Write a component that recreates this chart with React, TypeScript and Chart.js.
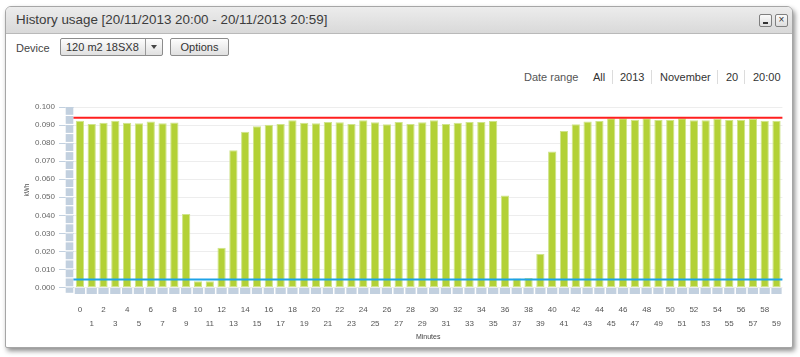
import React, { useEffect, useRef } from 'react';
import { Chart, registerables } from 'chart.js';

Chart.register(...registerables);

const FONT = '"Liberation Sans", Arial, Helvetica, sans-serif';

const minutes = [
  '0', '1', '2', '3', '4', '5', '6', '7', '8', '9',
  '10', '11', '12', '13', '14', '15', '16', '17', '18', '19',
  '20', '21', '22', '23', '24', '25', '26', '27', '28', '29',
  '30', '31', '32', '33', '34', '35', '36', '37', '38', '39',
  '40', '41', '42', '43', '44', '45', '46', '47', '48', '49',
  '50', '51', '52', '53', '54', '55', '56', '57', '58', '59',
];

const usageKwh = [
  0.0924, 0.0906, 0.0913, 0.0924, 0.0913, 0.0910, 0.0920, 0.0910, 0.0914, 0.0407,
  0.0035, 0.0035, 0.0220, 0.0761, 0.0863, 0.0893, 0.0902, 0.0906, 0.0926, 0.0913,
  0.0910, 0.0917, 0.0915, 0.0906, 0.0926, 0.0915, 0.0904, 0.0917, 0.0906, 0.0915,
  0.0926, 0.0906, 0.0913, 0.0917, 0.0917, 0.0922, 0.0510, 0.0050, 0.0053, 0.0185,
  0.0754, 0.0867, 0.0905, 0.0920, 0.0922, 0.0937, 0.0937, 0.0930, 0.0938, 0.0928,
  0.0928, 0.0937, 0.0926, 0.0926, 0.0933, 0.0928, 0.0930, 0.0933, 0.0924, 0.0924,
];

const yTicks = [0, 0.01, 0.02, 0.03, 0.04, 0.05, 0.06, 0.07, 0.08, 0.09, 0.1];
const Y_MIN = -0.0036;
const Y_MAX = 0.1;

const BAND_LOW = -0.0036;
const BAND_HIGH = -0.0003;

const MAX_LIMIT = 0.094;
const MIN_LIMIT = 0.0044;

const dateRange = ['All', '2013', 'November', '20', '20:00'];

const overlayPlugin = {
  id: 'overlay',
  afterDatasetsDraw(chart: any) {
    const { ctx, chartArea } = chart;
    const y = chart.scales.y;
    const lines: [number, string][] = [
      [MAX_LIMIT, '#ff1f1f'],
      [MIN_LIMIT, '#1ea3e8'],
    ];
    ctx.save();
    for (const [v, c] of lines) {
      const py = y.getPixelForValue(v);
      ctx.strokeStyle = c;
      ctx.lineWidth = 2;
      ctx.beginPath();
      ctx.moveTo(chartArea.left - 1, py);
      ctx.lineTo(chartArea.right, py);
      ctx.stroke();
    }
    ctx.restore();
  },
  afterDraw(chart: any) {
    const { ctx, chartArea } = chart;
    const y = chart.scales.y;
    const edges: number[] = [];
    for (let i = yTicks.length - 1; i > 0; i--) {
      edges.push(yTicks[i]);
      edges.push((yTicks[i] + yTicks[i - 1]) / 2);
    }
    edges.push(yTicks[0]);
    edges.push(Y_MIN);
    const x0 = chartArea.left - 8.3;
    const w = 7.6;
    ctx.save();
    ctx.fillStyle = '#ffffff';
    ctx.fillRect(x0, chartArea.top, w, chartArea.bottom - chartArea.top);
    ctx.fillStyle = '#c2d0df';
    for (let i = 0; i < edges.length - 1; i++) {
      const t = y.getPixelForValue(edges[i]);
      const b = y.getPixelForValue(edges[i + 1]);
      ctx.fillRect(x0, t, w, b - t - 1.2);
    }
    // unit label
    ctx.translate(17, y.getPixelForValue(0.054));
    ctx.rotate(-Math.PI / 2);
    ctx.fillStyle = '#555';
    ctx.font = `6.5px ${FONT}`;
    ctx.textAlign = 'center';
    ctx.textBaseline = 'middle';
    ctx.fillText('kWh', 0, 0);
    ctx.restore();
  },
};

function UsageChart() {
  const ref = useRef<HTMLCanvasElement | null>(null);
  useEffect(() => {
    if (!ref.current) return;
    const band = minutes.map(() => [BAND_LOW, BAND_HIGH]);
    const chart = new Chart(ref.current, {
      type: 'bar',
      data: {
        labels: minutes,
        datasets: [
          {
            label: 'Usage',
            data: usageKwh,
            backgroundColor: '#b3d136',
            borderColor: '#cfe48a',
            borderWidth: 1,
            borderSkipped: false,
            barPercentage: 0.7,
            categoryPercentage: 1,
            grouped: false,
          } as any,
          {
            label: 'Base',
            data: band as any,
            backgroundColor: '#c2d0df',
            borderWidth: 0,
            barPercentage: 0.87,
            categoryPercentage: 1,
            grouped: false,
          } as any,
        ],
      },
      options: {
        animation: false,
        responsive: false,
        maintainAspectRatio: false,
        events: [],
        layout: { padding: { left: 0, right: 5, top: 12, bottom: 0 } },
        plugins: { legend: { display: false }, tooltip: { enabled: false } },
        scales: {
          x: {
            grid: { display: false, drawTicks: false },
            border: { display: false },
            ticks: {
              autoSkip: false,
              maxRotation: 0,
              minRotation: 0,
              padding: 9,
              color: '#555',
              font: { size: 8, family: FONT, lineHeight: 1.75 },
              callback: (_v: any, i: number) => (i % 2 === 0 ? minutes[i] : ['', minutes[i]]),
            },
            title: {
              display: true,
              text: 'Minutes',
              color: '#444',
              font: { size: 7, family: FONT, lineHeight: 1.2 },
              padding: { top: 0, bottom: 4 },
            },
            afterFit: (s: any) => {
              s.height = 51;
            },
          },
          y: {
            min: Y_MIN,
            max: Y_MAX,
            afterBuildTicks: (s: any) => {
              s.ticks = yTicks.map((v) => ({ value: v }));
            },
            grid: { color: '#ededed', tickColor: '#c2d0df', tickLength: 15, lineWidth: 1 },
            border: { display: false },
            ticks: {
              padding: 4,
              color: '#666',
              font: { size: 8, family: FONT },
              callback: (v: any) => Number(v).toFixed(3),
            },
            afterFit: (s: any) => {
              s.width = 64;
            },
          },
        },
      } as any,
      plugins: [overlayPlugin],
    });
    return () => chart.destroy();
  }, []);
  return (
    <canvas
      ref={ref}
      width={780}
      height={250}
      style={{ position: 'absolute', left: 4, top: 88, width: 780, height: 250 }}
    />
  );
}

const btn: React.CSSProperties = {
  position: 'absolute',
  boxSizing: 'border-box',
  border: '1px solid #8c8c8c',
  borderRadius: 2,
  background: 'linear-gradient(#fdfdfd, #e0e0e0)',
  fontSize: 11,
  color: '#333',
  height: 18,
  lineHeight: '16px',
};

export default function App() {
  const dateLefts = [587, 614, 654, 720, 747];
  const sepLefts = [606, 645, 711, 738];
  return (
    <div
      style={{
        position: 'absolute',
        left: 0,
        top: 0,
        width: 800,
        height: 357,
        background: '#ffffff',
        overflow: 'hidden',
        fontFamily: FONT,
      }}
    >
      <div
        style={{
          position: 'absolute',
          left: 5,
          top: 6,
          width: 788,
          height: 342,
          boxSizing: 'border-box',
          border: '1px solid #a6a6a6',
          borderRadius: '6px 6px 2px 2px',
          background: '#ffffff',
          boxShadow: '2px 3px 5px rgba(0,0,0,0.45)',
        }}
      >
        <div
          style={{
            position: 'absolute',
            left: 0,
            top: 0,
            right: 0,
            height: 26,
            borderBottom: '1px solid #b9b9b9',
            borderRadius: '5px 5px 0 0',
            background: 'linear-gradient(#ececec, #d9d9d9)',
          }}
        >
          <div
            style={{
              position: 'absolute',
              left: 10,
              top: 0,
              lineHeight: '26px',
              fontSize: 13.4,
              color: '#3c3c3c',
              whiteSpace: 'nowrap',
            }}
          >
            History usage [20/11/2013 20:00 - 20/11/2013 20:59]
          </div>
          <div
            style={{
              position: 'absolute',
              left: 753,
              top: 7,
              width: 13,
              height: 13,
              boxSizing: 'border-box',
              border: '1px solid #7f7f7f',
              borderRadius: 2,
              background: 'linear-gradient(#fafafa, #dedede)',
            }}
          >
            <div style={{ position: 'absolute', left: 3, top: 7, width: 5, height: 1.5, background: '#333' }} />
          </div>
          <div
            style={{
              position: 'absolute',
              left: 769,
              top: 7,
              width: 13,
              height: 13,
              boxSizing: 'border-box',
              border: '1px solid #7f7f7f',
              borderRadius: 2,
              background: 'linear-gradient(#fafafa, #dedede)',
              fontSize: 10,
              lineHeight: '10px',
              textAlign: 'center',
              color: '#333',
            }}
          >
            ×
          </div>
        </div>

        <div style={{ position: 'absolute', left: 10, top: 32, fontSize: 11, lineHeight: '18px', color: '#444' }}>
          Device
        </div>
        <div style={{ ...btn, left: 54, top: 31, width: 103 }}>
          <span style={{ position: 'absolute', left: 5, top: 0, whiteSpace: 'nowrap' }}>120 m2 18SX8</span>
          <div
            style={{
              position: 'absolute',
              left: 84,
              top: 0,
              width: 1,
              height: 16,
              background: '#999',
            }}
          />
          <div
            style={{
              position: 'absolute',
              left: 90,
              top: 6,
              width: 0,
              height: 0,
              borderLeft: '3px solid transparent',
              borderRight: '3px solid transparent',
              borderTop: '4px solid #444',
            }}
          />
        </div>
        <div style={{ ...btn, left: 164, top: 31, width: 59, textAlign: 'center' }}>Options</div>

        <div
          style={{
            position: 'absolute',
            left: 518,
            top: 62,
            fontSize: 11,
            lineHeight: '16px',
            color: '#555',
            whiteSpace: 'nowrap',
          }}
        >
          Date range
        </div>
        {dateRange.map((t, i) => (
          <div
            key={t + i}
            style={{
              position: 'absolute',
              left: dateLefts[i],
              top: 62,
              fontSize: 11,
              lineHeight: '16px',
              color: '#333',
              whiteSpace: 'nowrap',
            }}
          >
            {t}
          </div>
        ))}
        {sepLefts.map((l) => (
          <div
            key={l}
            style={{ position: 'absolute', left: l, top: 63, width: 1, height: 14, background: '#dcdcdc' }}
          />
        ))}

        <UsageChart />
      </div>
    </div>
  );
}
